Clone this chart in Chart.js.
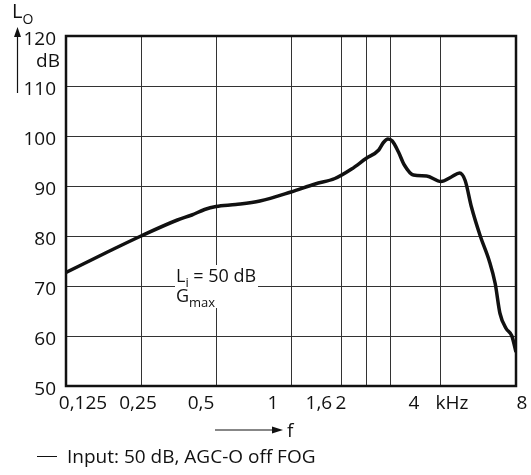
<!DOCTYPE html>
<html>
<head>
<meta charset="utf-8">
<script src="https://cdn.jsdelivr.net/npm/chart.js@4/dist/chart.umd.min.js"></script>
<style>
  html, body { margin: 0; padding: 0; background: #fff; }
</style>
</head>
<body>
<canvas id="chart" width="531" height="475"></canvas>
<script>
// frequency (kHz) and output level (dB)
const freqs = [0.125, 0.18, 0.25, 0.35, 0.4, 0.45, 0.5, 0.6, 0.75, 1.0, 1.25, 1.5, 1.75, 2.0,
  2.25, 2.35, 2.45, 2.55, 2.7, 2.85, 3.1, 3.5, 4.0, 4.4, 4.75, 5.0, 5.3, 5.75, 6.25, 6.6,
  6.9, 7.3, 7.7, 8.0];
const levels = [72.7, 76.6, 80.0, 83.2, 84.2, 85.3, 85.9, 86.3, 87.0, 88.8, 90.4, 91.5, 93.4, 95.5,
  97.2, 98.7, 99.4, 99.0, 96.8, 94.2, 92.2, 92.0, 90.9, 91.8, 92.6, 91.1, 85.8, 80.0, 75.0, 70.5,
  64.5, 61.5, 60.0, 56.8];

const xTicks = [0.125, 0.25, 0.5, 1, 1.6, 2, 2.5, 4, 8];
const xTickLabels = ["0,125", "0,25", "0,5", "1", "1,6", "2", "", "4", "8"];
const yTicks = [50, 60, 70, 80, 90, 100, 110, 120];
const seriesLabel = "Input: 50 dB, AGC-O off FOG";

// label nudges as in the printed figure
const xLabelShift = [17, -3, -15, -18, -23, -25, 0, -27, 6];

const FONT = '"Open Sans", sans-serif';

function subText(ctx, x, y, main, sub, size, align) {
  ctx.font = size + "px " + FONT;
  const w1 = ctx.measureText(main).width;
  ctx.font = Math.round(size * 0.72) + "px " + FONT;
  const w2 = ctx.measureText(sub).width;
  let x0 = x;
  if (align === "center") x0 = x - (w1 + w2) / 2;
  ctx.textAlign = "left";
  ctx.font = size + "px " + FONT;
  ctx.fillText(main, x0, y);
  ctx.font = Math.round(size * 0.72) + "px " + FONT;
  ctx.fillText(sub, x0 + w1, y + size * 0.3);
  return x0 + w1 + w2;
}

const decor = {
  id: "decor",
  beforeDatasetsDraw(chart) {
    const { ctx, scales: { x, y } } = chart;
    // note box on 0,5 kHz / 70 dB
    const cx = x.getPixelForValue(0.5);
    const cy = y.getPixelForValue(70);
    ctx.save();
    ctx.fillStyle = "#fff";
    ctx.fillRect(cx - 41, cy - 21, 83, 43);
    ctx.fillStyle = "#111";
    ctx.textBaseline = "alphabetic";
    let e = subText(ctx, cx - 40, cy - 4, "L", "i", 18);
    ctx.font = "18px " + FONT;
    ctx.fillText(" = 50 dB", e, cy - 4);
    subText(ctx, cx - 40, cy + 16, "G", "max", 18);
    ctx.restore();
  },
  afterDraw(chart) {
    const { ctx, chartArea: a, scales: { x, y } } = chart;
    ctx.save();
    // frame
    ctx.strokeStyle = "#111";
    ctx.lineWidth = 2.5;
    ctx.strokeRect(a.left, a.top, a.right - a.left, a.bottom - a.top);

    ctx.fillStyle = "#111";
    ctx.font = "19px " + FONT;
    ctx.textBaseline = "alphabetic";

    // y labels
    ctx.textAlign = "right";
    yTicks.forEach((v) => {
      ctx.fillText(String(v), a.left - 10, y.getPixelForValue(v) + 9);
    });
    ctx.fillText("dB", a.left - 6, y.getPixelForValue(115) + 6);

    // x labels
    ctx.textAlign = "center";
    xTicks.forEach((v, i) => {
      if (!xTickLabels[i]) return;
      ctx.fillText(xTickLabels[i], x.getPixelForValue(v) + xLabelShift[i], a.bottom + 23);
    });
    ctx.fillText("kHz", x.getPixelForValue(4) + 11, a.bottom + 23);

    // axis names and arrows
    ctx.textAlign = "left";
    subText(ctx, 12, 18, "L", "O", 20);
    ctx.lineWidth = 1.2;
    ctx.beginPath();
    ctx.moveTo(17.5, 93);
    ctx.lineTo(17.5, 34);
    ctx.stroke();
    ctx.beginPath();
    ctx.moveTo(17.5, 27);
    ctx.lineTo(14, 37);
    ctx.lineTo(21, 37);
    ctx.closePath();
    ctx.fill();

    const fy = a.bottom + 44;
    ctx.beginPath();
    ctx.moveTo(215, fy);
    ctx.lineTo(274, fy);
    ctx.stroke();
    ctx.beginPath();
    ctx.moveTo(283, fy);
    ctx.lineTo(272, fy - 3.5);
    ctx.lineTo(272, fy + 3.5);
    ctx.closePath();
    ctx.fill();
    ctx.font = "19px " + FONT;
    ctx.fillText("f", 287, fy + 7);

    // legend
    ctx.lineWidth = 1;
    ctx.beginPath();
    ctx.moveTo(37, 456.5);
    ctx.lineTo(57, 456.5);
    ctx.stroke();
    ctx.fillText(chart.data.datasets[0].label, 67, 463);
    ctx.restore();
  },
};

new Chart(document.getElementById("chart"), {
  type: "line",
  data: {
    datasets: [
      {
        label: seriesLabel,
        data: freqs.map((f, i) => ({ x: f, y: levels[i] })),
        borderColor: "#111",
        borderWidth: 3.5,
        pointRadius: 0,
        cubicInterpolationMode: "monotone",
        fill: false,
      },
    ],
  },
  options: {
    responsive: false,
    animation: false,
    layout: { padding: { left: 66, right: 15, top: 36, bottom: 89 } },
    plugins: { legend: { display: false }, tooltip: { enabled: false } },
    scales: {
      x: {
        type: "logarithmic",
        min: 0.125,
        max: 8,
        afterBuildTicks(scale) {
          scale.ticks = xTicks.map((v) => ({ value: v }));
        },
        ticks: { display: false },
        grid: { color: "#333", lineWidth: 1, drawTicks: false },
        border: { display: false },
      },
      y: {
        type: "linear",
        min: 50,
        max: 120,
        afterBuildTicks(scale) {
          scale.ticks = yTicks.map((v) => ({ value: v }));
        },
        ticks: { display: false },
        grid: { color: "#333", lineWidth: 1, drawTicks: false },
        border: { display: false },
      },
    },
  },
  plugins: [decor],
});
</script>
</body>
</html>
